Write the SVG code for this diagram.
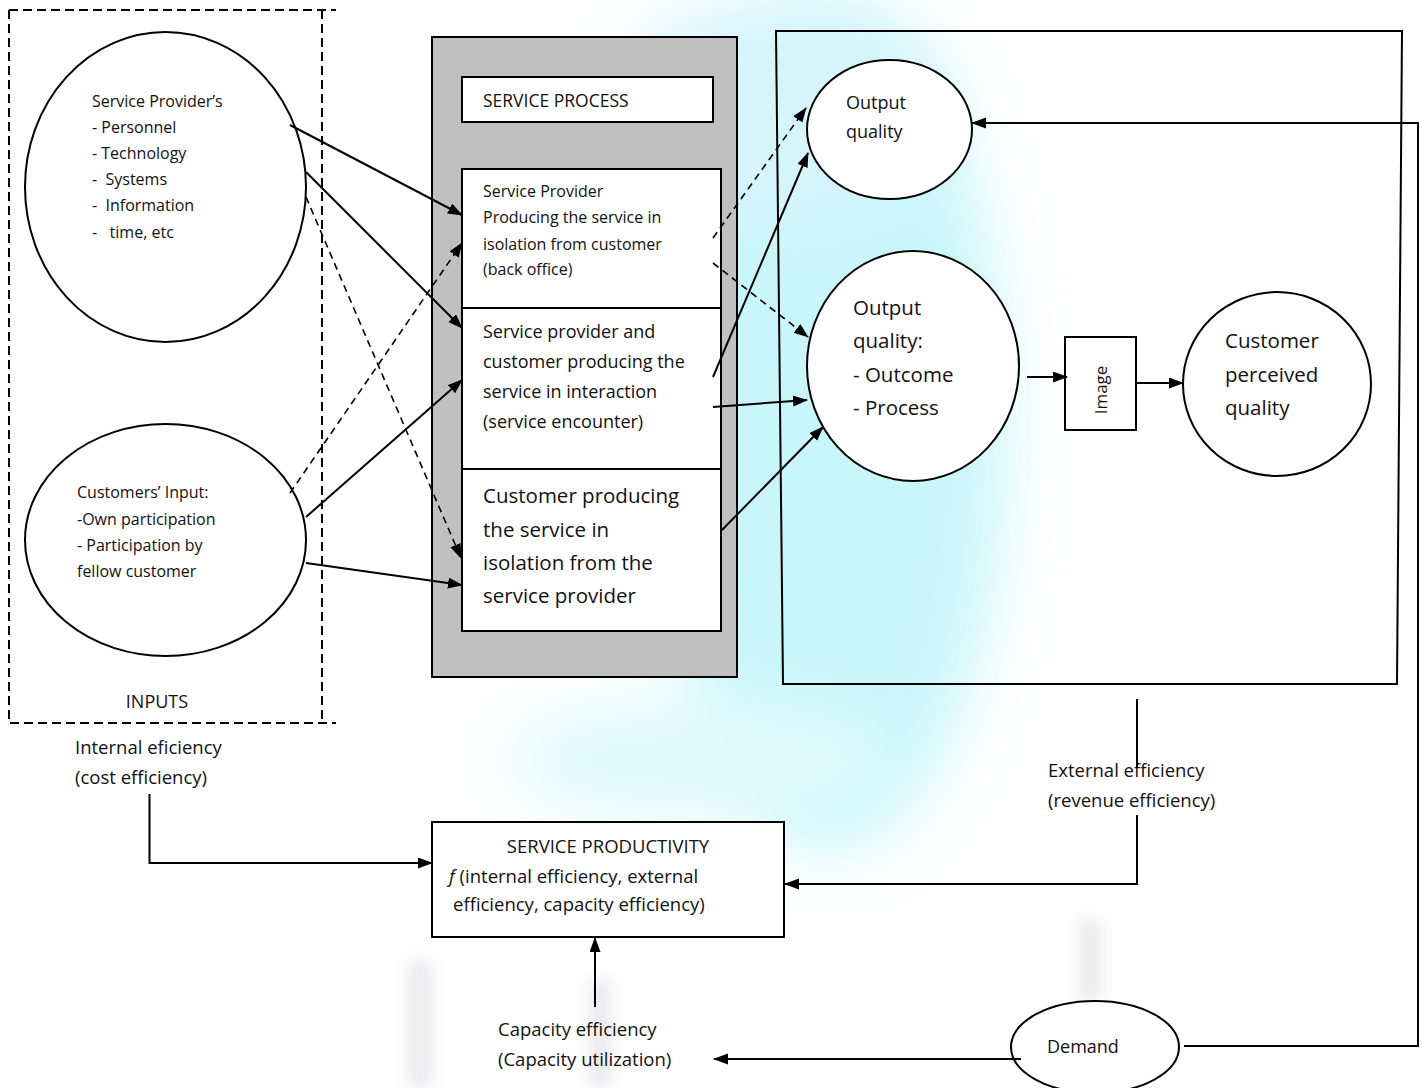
<svg xmlns="http://www.w3.org/2000/svg" width="1422" height="1088" viewBox="0 0 1422 1088">
<style>
  text { font-family: "Open Sans", "Liberation Sans", sans-serif; fill: #111; }
  .ln { fill: none; stroke: #000; stroke-width: 2; }
  .dash { fill: none; stroke: #000; stroke-width: 1.6; stroke-dasharray: 7 5; }
  .node { fill: #fff; stroke: #000; stroke-width: 2; }
  .s16 { font-size: 16px; }
  .s18 { font-size: 18px; }
  .s185 { font-size: 18.5px; }
  .s205 { font-size: 20.5px; }
</style>
<defs>
  <marker id="ah" markerUnits="userSpaceOnUse" markerWidth="16" markerHeight="12" refX="14" refY="5.5" orient="auto">
    <path d="M0,0 L15,5.5 L0,11 z" fill="#000"/>
  </marker>
  <filter id="blur" x="-50%" y="-50%" width="200%" height="200%">
    <feGaussianBlur stdDeviation="30"/>
  </filter>
  <filter id="blur2" x="-50%" y="-50%" width="200%" height="200%">
    <feGaussianBlur stdDeviation="8"/>
  </filter>
</defs>
<rect width="1422" height="1088" fill="#fff"/>
<g id="watermark">
  <ellipse cx="830" cy="430" rx="175" ry="420" fill="#c9f6fa" filter="url(#blur)"/>
  <ellipse cx="780" cy="110" rx="170" ry="110" fill="#d6f5fb" filter="url(#blur)"/>
  <ellipse cx="700" cy="760" rx="190" ry="60" fill="#e0f9fb" filter="url(#blur)"/>
  <g fill="none" stroke="#dcdce4" stroke-width="22" filter="url(#blur2)" opacity="0.6">
    <path d="M420,960 V1088"/>
    <path d="M600,980 V1088"/>
    <path d="M1090,920 V1000"/>
  </g>
</g>

<g id="inputs-frame">
  <path class="dash" style="stroke-width:2;stroke-dasharray:9 5" d="M9,10 H336 M9,10 V723 H336 M322,10 V723"/>
  <text class="s18" x="157" y="708" text-anchor="middle">INPUTS</text>
</g>

<g id="provider-inputs">
  <ellipse class="node" cx="165.5" cy="187" rx="140.5" ry="155"/>
  <text class="s16" xml:space="preserve"><tspan x="92" y="107">Service Provider’s</tspan><tspan x="92" y="133">- Personnel</tspan><tspan x="92" y="159">- Technology</tspan><tspan x="92" y="185">-  Systems</tspan><tspan x="92" y="211">-  Information</tspan><tspan x="92" y="238">-   time, etc</tspan></text>
</g>

<g id="customer-inputs">
  <ellipse class="node" cx="165.5" cy="540" rx="140.5" ry="116"/>
  <text class="s16"><tspan x="77" y="498">Customers’ Input:</tspan><tspan x="77" y="525">-Own participation</tspan><tspan x="77" y="551">- Participation by</tspan><tspan x="77" y="577">fellow customer</tspan></text>
</g>

<g id="service-process">
  <rect x="432" y="37" width="305" height="640" fill="#c0c0c0" stroke="#000" stroke-width="2"/>
  <rect class="node" x="462" y="77" width="251" height="45"/>
  <text x="483" y="107" style="font-size:17.5px">SERVICE PROCESS</text>
</g>

<g id="back-office">
  <rect class="node" x="462" y="169" width="259" height="139"/>
  <text class="s16"><tspan x="483" y="197">Service Provider</tspan><tspan x="483" y="223">Producing the service in</tspan><tspan x="483" y="250">isolation from customer</tspan><tspan x="483" y="275">(back office)</tspan></text>
</g>

<g id="service-encounter">
  <rect class="node" x="462" y="308" width="259" height="161"/>
  <text class="s18"><tspan x="483" y="338">Service provider and</tspan><tspan x="483" y="368">customer producing the</tspan><tspan x="483" y="398">service in interaction</tspan><tspan x="483" y="428">(service encounter)</tspan></text>
</g>

<g id="customer-isolation">
  <rect class="node" x="462" y="469" width="259" height="162"/>
  <text class="s205"><tspan x="483" y="503">Customer producing</tspan><tspan x="483" y="537">the service in</tspan><tspan x="483" y="570">isolation from the</tspan><tspan x="483" y="603">service provider</tspan></text>
</g>

<g id="quality-frame">
  <path class="ln" d="M776,31 H1402 L1397,684 H783 Z"/>
</g>

<g id="output-quality-small">
  <ellipse class="node" cx="889.5" cy="129.5" rx="82.5" ry="69.5"/>
  <text class="s18"><tspan x="846" y="109">Output</tspan><tspan x="846" y="138">quality</tspan></text>
</g>

<g id="output-quality">
  <ellipse class="node" cx="913" cy="366" rx="106" ry="115"/>
  <text class="s205"><tspan x="853" y="315">Output</tspan><tspan x="853" y="348">quality:</tspan><tspan x="853" y="382">- Outcome</tspan><tspan x="853" y="415">- Process</tspan></text>
</g>

<g id="image">
  <rect class="node" x="1065" y="337" width="71" height="93"/>
  <text x="1107" y="390" text-anchor="middle" transform="rotate(-90 1107 390)" style="font-size:17px">Image</text>
</g>

<g id="perceived-quality">
  <ellipse class="node" cx="1277" cy="384" rx="94" ry="92"/>
  <text class="s205"><tspan x="1225" y="348">Customer</tspan><tspan x="1225" y="382">perceived</tspan><tspan x="1225" y="415">quality</tspan></text>
</g>

<g id="service-productivity">
  <rect class="node" x="432" y="822" width="352" height="115"/>
  <text class="s185"><tspan x="608" y="853" text-anchor="middle">SERVICE PRODUCTIVITY</tspan><tspan x="449" y="883"><tspan font-style="italic">f</tspan> (internal efficiency, external</tspan><tspan x="453" y="911">efficiency, capacity efficiency)</tspan></text>
</g>

<g id="demand">
  <ellipse class="node" cx="1095" cy="1047" rx="84" ry="46"/>
  <text class="s18" x="1047" y="1053">Demand</text>
</g>

<g id="labels">
  <text class="s185"><tspan x="75" y="754">Internal eficiency</tspan><tspan x="75" y="784">(cost efficiency)</tspan></text>
  <text class="s185"><tspan x="1048" y="777">External efficiency</tspan><tspan x="1048" y="807">(revenue efficiency)</tspan></text>
  <text class="s185"><tspan x="498" y="1036">Capacity efficiency</tspan><tspan x="498" y="1066">(Capacity utilization)</tspan></text>
</g>

<g id="connectors">
  <path class="ln" d="M290,125 L462,215" marker-end="url(#ah)"/>
  <path class="ln" d="M306,172 L462,328" marker-end="url(#ah)"/>
  <path class="dash" d="M306,197 L461,558" marker-end="url(#ah)"/>
  <path class="dash" d="M290,493 L462,243" marker-end="url(#ah)"/>
  <path class="ln" d="M306,517 L462,380" marker-end="url(#ah)"/>
  <path class="ln" d="M306,563 L462,585" marker-end="url(#ah)"/>

  <path class="dash" d="M713,238 L806,108" marker-end="url(#ah)"/>
  <path class="dash" d="M713,263 L808,337" marker-end="url(#ah)"/>
  <path class="ln" d="M713,377 L808,153" marker-end="url(#ah)"/>
  <path class="ln" d="M713,407 L807,400" marker-end="url(#ah)"/>
  <path class="ln" d="M722,530 L823,427" marker-end="url(#ah)"/>

  <path class="ln" d="M1027,377 H1067" marker-end="url(#ah)"/>
  <path class="ln" d="M1136,383 H1183" marker-end="url(#ah)"/>

  <path class="ln" d="M1184,1046 H1418 V123 H972" marker-end="url(#ah)"/>
  <path class="ln" d="M1137,699 V768"/>
  <path class="ln" d="M1137,815 V884 H785" marker-end="url(#ah)"/>
  <path class="ln" d="M149.5,794 V863 H432" marker-end="url(#ah)"/>
  <path class="ln" d="M595,1007 V938" marker-end="url(#ah)"/>
  <path class="ln" d="M1021,1059 H714" marker-end="url(#ah)"/>
</g>
</svg>
